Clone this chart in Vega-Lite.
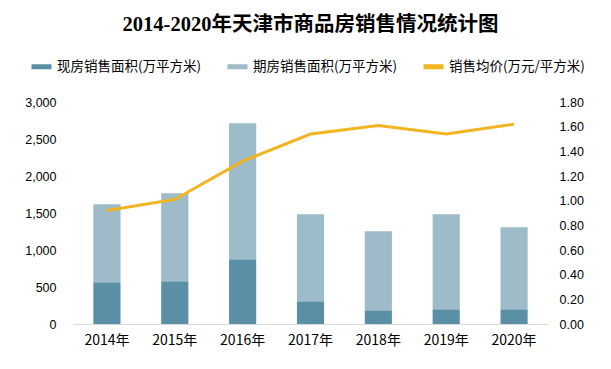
{
  "$schema": "https://vega.github.io/schema/vega-lite/v6.json",
  "width": 475,
  "height": 222,
  "autosize": {"type": "none"},
  "padding": {"left": 73, "top": 102, "right": 63, "bottom": 45},
  "background": "white",
  "title": {
    "text": "2014-2020年天津市商品房销售情况统计图",
    "font": "Liberation Serif, Noto Sans CJK SC",
    "fontSize": 20.5,
    "fontWeight": "bold",
    "color": "#000000",
    "anchor": "middle",
    "offset": 19
  },
  "config": {
    "view": {"stroke": null},
    "font": "Noto Sans CJK SC",
    "axis": {"labelFont": "Liberation Sans, Noto Sans CJK SC", "labelFontSize": 12.5, "labelColor": "#000000", "grid": false, "ticks": false, "titleFontSize": 0}
  },
  "datasets": {
    "area": [
      {"year": "2014年", "type": "现房销售面积(万平方米)", "value": 563},
      {"year": "2015年", "type": "现房销售面积(万平方米)", "value": 577},
      {"year": "2016年", "type": "现房销售面积(万平方米)", "value": 874},
      {"year": "2017年", "type": "现房销售面积(万平方米)", "value": 307},
      {"year": "2018年", "type": "现房销售面积(万平方米)", "value": 185},
      {"year": "2019年", "type": "现房销售面积(万平方米)", "value": 199},
      {"year": "2020年", "type": "现房销售面积(万平方米)", "value": 199},
      {"year": "2014年", "type": "期房销售面积(万平方米)", "value": 1055},
      {"year": "2015年", "type": "期房销售面积(万平方米)", "value": 1189},
      {"year": "2016年", "type": "期房销售面积(万平方米)", "value": 1838},
      {"year": "2017年", "type": "期房销售面积(万平方米)", "value": 1175},
      {"year": "2018年", "type": "期房销售面积(万平方米)", "value": 1068},
      {"year": "2019年", "type": "期房销售面积(万平方米)", "value": 1283},
      {"year": "2020年", "type": "期房销售面积(万平方米)", "value": 1108}
    ],
    "price": [
      {"year": "2014年", "type": "销售均价(万元/平方米)", "price": 0.92},
      {"year": "2015年", "type": "销售均价(万元/平方米)", "price": 1.01},
      {"year": "2016年", "type": "销售均价(万元/平方米)", "price": 1.32},
      {"year": "2017年", "type": "销售均价(万元/平方米)", "price": 1.54},
      {"year": "2018年", "type": "销售均价(万元/平方米)", "price": 1.61},
      {"year": "2019年", "type": "销售均价(万元/平方米)", "price": 1.54},
      {"year": "2020年", "type": "销售均价(万元/平方米)", "price": 1.62}
    ]
  },
  "encoding": {
    "x": {
      "field": "year", "type": "nominal", "sort": null, "title": null,
      "scale": {"paddingInner": 0.6, "paddingOuter": 0.3},
      "axis": {"labelAngle": 0, "domainColor": "#d9d9d9", "labelPadding": 9, "labelFontSize": 14, "labelFont": "Noto Sans CJK SC"}
    },
    "color": {
      "field": "type", "type": "nominal",
      "scale": {
        "domain": ["现房销售面积(万平方米)", "期房销售面积(万平方米)", "销售均价(万元/平方米)"],
        "range": ["#5b8fa6", "#9dbbc9", "#f2b41f"]
      },
      "legend": {
        "orient": "none", "legendX": -44, "legendY": -48, "direction": "horizontal", "title": null,
        "symbolType": "stroke", "symbolStrokeWidth": 5, "symbolSize": 400, "labelOffset": 3,
        "labelFontSize": 13.5, "labelFont": "Noto Sans CJK SC", "labelColor": "#000000",
        "columnPadding": 15, "labelLimit": 300
      }
    }
  },
  "layer": [
    {
      "data": {"name": "area"},
      "mark": {"type": "bar"},
      "encoding": {
        "y": {
          "field": "value", "type": "quantitative", "stack": "zero", "title": null,
          "scale": {"domain": [0, 3000]},
          "axis": {"orient": "left", "values": [0, 500, 1000, 1500, 2000, 2500, 3000], "format": ",d", "domain": false, "labelPadding": 17}
        },
        "order": {"field": "type", "sort": "descending"}
      }
    },
    {
      "data": {"name": "price"},
      "mark": {"type": "line", "strokeWidth": 3, "interpolate": "linear"},
      "encoding": {
        "y": {
          "field": "price", "type": "quantitative", "title": null,
          "scale": {"domain": [0, 1.8]},
          "axis": {"orient": "right", "values": [0, 0.2, 0.4, 0.6, 0.8, 1.0, 1.2, 1.4, 1.6, 1.8], "format": ".2f", "domain": false, "labelPadding": 11}
        }
      }
    }
  ],
  "resolve": {"scale": {"y": "independent"}}
}
